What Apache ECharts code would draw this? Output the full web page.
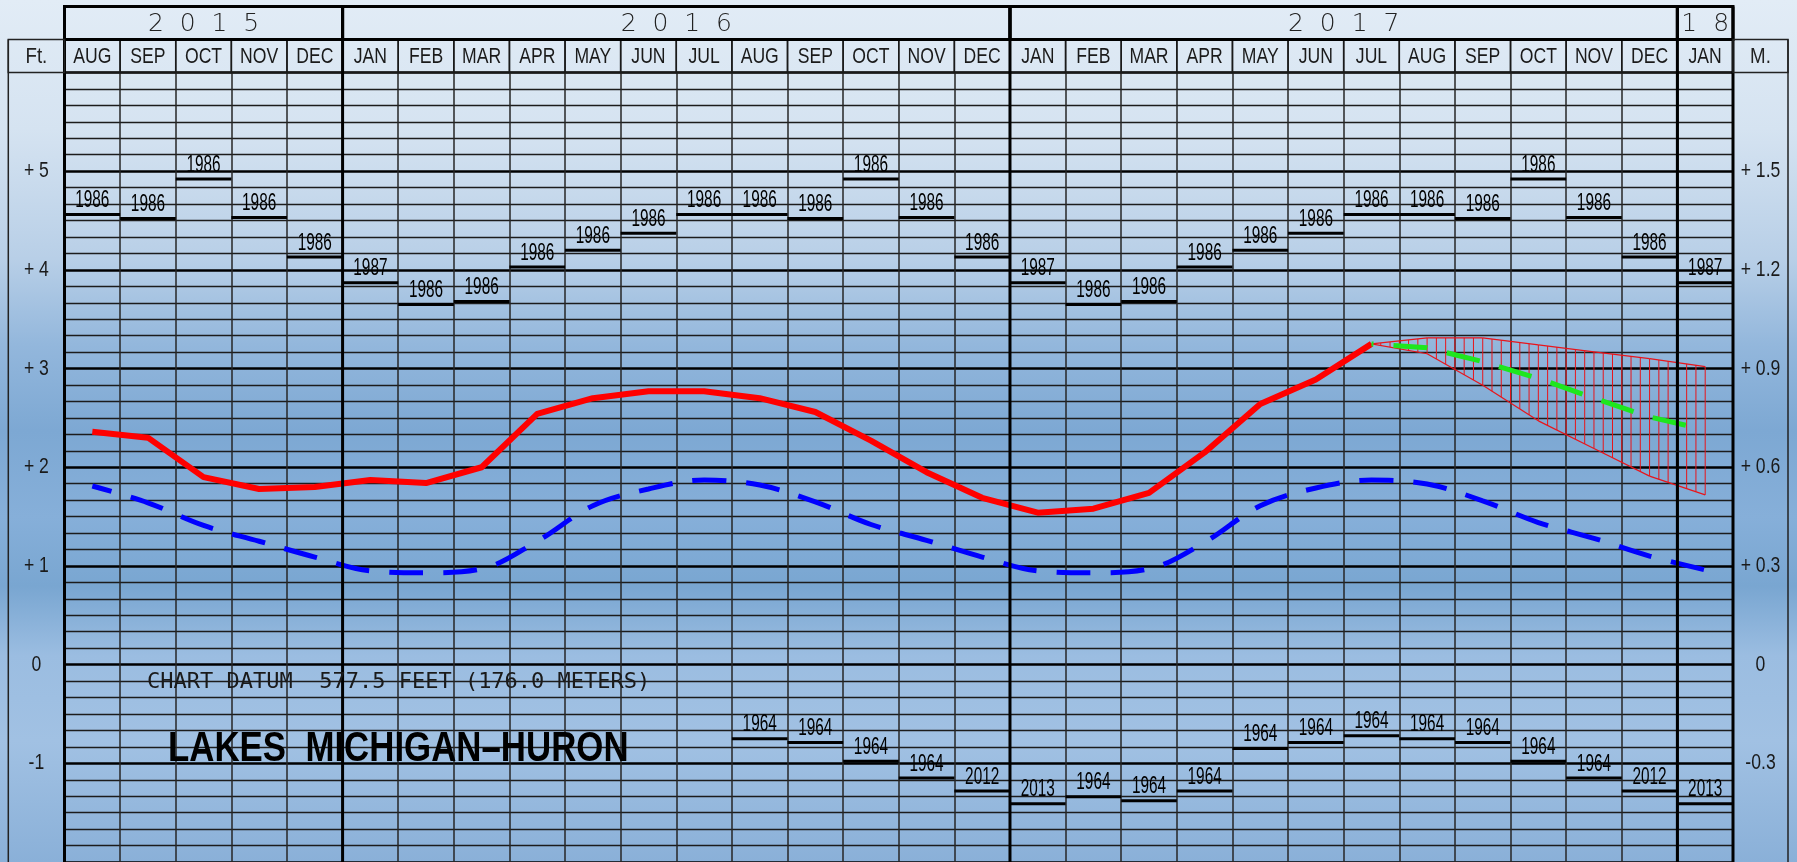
<!DOCTYPE html>
<html><head><meta charset="utf-8">
<script src="https://cdn.jsdelivr.net/npm/echarts@6/dist/echarts.min.js"></script>
<style>html,body{margin:0;padding:0;background:#dfe9f3;overflow:hidden}#c{width:1797px;height:862px}</style>
</head><body><div id="c"></div>
<script>
// ---------- data ----------
const months = ['AUG','SEP','OCT','NOV','DEC','JAN','FEB','MAR','APR','MAY','JUN','JUL','AUG','SEP','OCT','NOV','DEC','JAN','FEB','MAR','APR','MAY','JUN','JUL','AUG','SEP','OCT','NOV','DEC','JAN'];
const yearLabels = ['2  0  1  5','2  0  1  6','2  0  1  7','1  8'];
const yearSpans = [5, 12, 12, 1];
const tickValues = [-1, 0, 1, 2, 3, 4, 5];
const feetTickLabels = ['-1', '0', '+ 1', '+ 2', '+ 3', '+ 4', '+ 5'];
const meterTickLabels = ['-0.3', '0', '+ 0.3', '+ 0.6', '+ 0.9', '+ 1.2', '+ 1.5'];

// recorded monthly mean level (ft above chart datum), AUG 2015 - JUL 2017
const actualLevel = [2.36, 2.30, 1.90, 1.78, 1.80, 1.87, 1.84, 2.00, 2.54, 2.70, 2.77, 2.77, 2.70, 2.56, 2.27, 1.95, 1.69, 1.54, 1.58, 1.74, 2.15, 2.64, 2.89, 3.25];
// long-term average level
const averageLevel = [1.81, 1.64, 1.41, 1.25, 1.09, 0.95, 0.93, 0.97, 1.25, 1.61, 1.78, 1.87, 1.82, 1.65, 1.42, 1.26, 1.09, 0.95, 0.93, 0.97, 1.24, 1.61, 1.79, 1.87, 1.83, 1.66, 1.44, 1.28, 1.10, 0.96];
// forecast (starts at JUL 2017)
const forecastStart = 23;
const forecastMid  = [3.25, 3.21, 3.07, 2.90, 2.70, 2.51, 2.38];
const forecastHigh = [3.25, 3.31, 3.31, 3.24, 3.17, 3.10, 3.02];
const forecastLow  = [3.25, 3.15, 2.83, 2.47, 2.19, 1.91, 1.72];

// records by calendar month JAN..DEC
const calMonths = ['JAN','FEB','MAR','APR','MAY','JUN','JUL','AUG','SEP','OCT','NOV','DEC'];
const recordHigh     = [3.87, 3.65, 3.68, 4.03, 4.20, 4.37, 4.56, 4.56, 4.52, 4.92, 4.53, 4.13];
const recordHighYear = ['1987','1986','1986','1986','1986','1986','1986','1986','1986','1986','1986','1986'];
const recordLow      = [-1.41, -1.34, -1.38, -1.28, -0.85, -0.79, -0.72, -0.75, -0.79, -0.98, -1.15, -1.28];
const recordLowYear  = ['2013','1964','1964','1964','1964','1964','1964','1964','1964','1964','1964','2012'];
const recordLowFirst = 12;

// ---------- layout ----------
const GL = 64.5, GT = 72.5, GW = 1668.5, GH = 790.8;
const ROW = 33, FRAME_L = 8.3, FRAME_R = 1788;
const SANS = '"Liberation Sans", Arial, sans-serif';

const pad = (arr, start) => months.map((m, i) => (i >= start && i - start < arr.length) ? arr[i - start] : null);

const highData = months.map((m, i) => [i, recordHigh[calMonths.indexOf(m)]]);
const highYears = months.map(m => recordHighYear[calMonths.indexOf(m)]);
const lowData = [], lowYears = [];
months.forEach((m, i) => { if (i >= recordLowFirst) { lowData.push([i, recordLow[calMonths.indexOf(m)]]); lowYears.push(recordLowYear[calMonths.indexOf(m)]); } });

const yearData = []; let acc = 0;
yearSpans.forEach((n, k) => { yearData.push([acc, acc + n - 1, k]); acc += n; });

function txt(x, y, text, font, fill, sx, align, valign) {
  return { type: 'text', x: x, y: y, scaleX: sx || 1, style: { text: text, fill: fill, font: font,
    align: align || 'center', verticalAlign: valign || 'middle', textAlign: align || 'center', textVerticalAlign: valign || 'middle' } };
}

function recordRenderer(years) {
  return function (params, api) {
    const i = api.value(0), v = api.value(1);
    const p = api.coord([i, v]);
    const w = api.size([1, 0])[0];
    return { type: 'group', children: [
      { type: 'line', shape: { x1: p[0] - w / 2, y1: p[1], x2: p[0] + w / 2, y2: p[1] }, style: { stroke: '#000', lineWidth: 3 } },
      txt(p[0], p[1] - 2, years[params.dataIndex], '24px ' + SANS, '#000', 0.64, 'center', 'bottom')
    ] };
  };
}

function bandRenderer(params, api) {
  const k = params.dataIndex;
  const i0 = forecastStart + k;
  const children = [];
  if (k < forecastHigh.length - 1) {
    const a0 = api.coord([i0, forecastLow[k]]), b0 = api.coord([i0, forecastHigh[k]]);
    const a1 = api.coord([i0 + 1, forecastLow[k + 1]]), b1 = api.coord([i0 + 1, forecastHigh[k + 1]]);
    children.push({ type: 'line', shape: { x1: a0[0], y1: a0[1], x2: a1[0], y2: a1[1] }, style: { stroke: '#e8151b', lineWidth: 1.2 } });
    children.push({ type: 'line', shape: { x1: b0[0], y1: b0[1], x2: b1[0], y2: b1[1] }, style: { stroke: '#e8151b', lineWidth: 1.2 } });
    for (let s = 1; s <= 6; s++) {
      const t = s / 6;
      const x = a0[0] + (a1[0] - a0[0]) * t;
      const yl = a0[1] + (a1[1] - a0[1]) * t;
      const yu = b0[1] + (b1[1] - b0[1]) * t;
      children.push({ type: 'line', shape: { x1: x, y1: yl, x2: x, y2: yu }, style: { stroke: '#e8151b', lineWidth: 1 } });
    }
  }
  return { type: 'group', children };
}

function monthHeaderRenderer(params, api) {
  const i = api.value(0);
  const c = api.coord([i, 6]);
  const w = api.size([1, 0])[0];
  return { type: 'group', children: [
    { type: 'rect', shape: { x: c[0] - w / 2, y: c[1] - ROW, width: w, height: ROW }, style: { fill: 'none', stroke: '#1a1a1a', lineWidth: 1.5 } },
    txt(c[0], c[1] - ROW / 2 + 1, months[i], '22px ' + SANS, '#1a1a1a', 0.8)
  ] };
}

function yearRenderer(params, api) {
  const s = api.value(0), e = api.value(1), k = api.value(2);
  const w = api.size([1, 0])[0];
  const cs = api.coord([s, 6]), ce = api.coord([e, 6]);
  const bot = api.coord([s, -2])[1];
  const x0 = cs[0] - w / 2, x1 = ce[0] + w / 2, top = cs[1];
  const ch = [
    { type: 'rect', shape: { x: x0, y: top - 2 * ROW, width: x1 - x0, height: ROW }, style: { fill: 'none', stroke: '#000', lineWidth: 3 } },
    txt((x0 + x1) / 2, top - 1.5 * ROW + 1, yearLabels[k], '300 25px "DejaVu Sans", sans-serif', '#222', 1),
    { type: 'line', shape: { x1: x0, y1: top - 2 * ROW, x2: x0, y2: bot }, style: { stroke: '#000', lineWidth: 3 } }
  ];
  if (k === yearSpans.length - 1) ch.push({ type: 'line', shape: { x1: x1, y1: top - 2 * ROW, x2: x1, y2: bot }, style: { stroke: '#000', lineWidth: 3 } });
  return { type: 'group', children: ch };
}

function tickLabelRenderer(params, api) {
  const v = api.value(0);
  const y = api.coord([0, v])[1];
  const j = params.dataIndex;
  return { type: 'group', children: [
    txt((FRAME_L + GL) / 2, y, feetTickLabels[j], '22px ' + SANS, '#1a1a1a', 0.8),
    txt((GL + GW + FRAME_R) / 2, y, meterTickLabels[j], '22px ' + SANS, '#1a1a1a', 0.8)
  ] };
}

const chart = echarts.init(document.getElementById('c'), null, { renderer: 'canvas', width: 1797, height: 862 });

const bg = { type: 'linear', x: 0, y: 0, x2: 0, y2: 1, colorStops: [
  { offset: 0, color: '#e2ecf6' }, { offset: 0.15, color: '#d5e3f1' }, { offset: 0.3, color: '#b8cfe7' },
  { offset: 0.4, color: '#93b7dc' }, { offset: 0.5, color: '#7da8d3' }, { offset: 0.6, color: '#86afd9' },
  { offset: 0.68, color: '#79a6d1' }, { offset: 0.76, color: '#9bbde1' }, { offset: 0.86, color: '#a1c1e3' },
  { offset: 1, color: '#8ab0d8' } ] };

chart.setOption({
  animation: false,
  backgroundColor: 'transparent',
  graphic: [
    { type: 'rect', z: -100, silent: true, shape: { x: 0, y: 0, width: 1797, height: 862 }, style: { fill: bg } },
    { type: 'rect', z: 50, shape: { x: FRAME_L, y: GT - ROW, width: GL - FRAME_L, height: ROW }, style: { fill: 'none', stroke: '#222', lineWidth: 1.5 } },
    { type: 'line', z: 50, shape: { x1: FRAME_L, y1: GT - ROW, x2: FRAME_L, y2: 862 }, style: { stroke: '#222', lineWidth: 1.5 } },
    Object.assign(txt((FRAME_L + GL) / 2, GT - ROW / 2 + 1, 'Ft.', '22px ' + SANS, '#222', 0.85), { z: 50 }),
    { type: 'rect', z: 50, shape: { x: GL + GW, y: GT - ROW, width: FRAME_R - GL - GW, height: ROW }, style: { fill: 'none', stroke: '#222', lineWidth: 1.5 } },
    { type: 'line', z: 50, shape: { x1: FRAME_R, y1: GT - ROW, x2: FRAME_R, y2: 862 }, style: { stroke: '#222', lineWidth: 1.5 } },
    Object.assign(txt((GL + GW + FRAME_R) / 2, GT - ROW / 2 + 1, 'M.', '22px ' + SANS, '#222', 0.85), { z: 50 }),
    Object.assign(txt(147, 682.5, 'CHART DATUM  577.5 FEET (176.0 METERS)', '22px "DejaVu Sans Mono", monospace', '#1a1a1a', 1, 'left'), { z: 50 }),
    Object.assign(txt(168, 749, 'LAKES  MICHIGAN–HURON', 'bold 43px ' + SANS, '#000', 0.81, 'left'), { z: 50 })
  ],
  grid: { left: GL, top: GT, width: GW, height: GH, show: false },
  xAxis: {
    type: 'category', data: months, boundaryGap: true,
    axisLine: { show: false }, axisTick: { show: false }, axisLabel: { show: false },
    splitLine: { show: true, interval: 0, lineStyle: { color: '#262626', width: 1.5 } }
  },
  yAxis: {
    type: 'value', min: -2, max: 6, interval: 1, position: 'left',
    axisLine: { show: false }, axisTick: { show: false }, axisLabel: { show: false },
    splitLine: { show: true, lineStyle: { color: '#000', width: 2.5 } },
    minorTick: { show: false, splitNumber: 6 },
    minorSplitLine: { show: true, lineStyle: { color: '#1c1c1c', width: 1.3 } }
  },
  series: [
    { type: 'custom', name: 'tickLabels', z: 20, renderItem: tickLabelRenderer, data: tickValues.map(v => [v]), clip: false },
    { type: 'custom', name: 'monthHeader', z: 20, renderItem: monthHeaderRenderer, data: months.map((m, i) => [i]), clip: false },
    { type: 'custom', name: 'years', z: 21, renderItem: yearRenderer, data: yearData, clip: false },
    { type: 'custom', name: 'recordHigh', z: 15, renderItem: recordRenderer(highYears), data: highData, clip: false },
    { type: 'custom', name: 'recordLow', z: 15, renderItem: recordRenderer(lowYears), data: lowData, clip: false },
    { type: 'custom', name: 'forecastRange', z: 16, renderItem: bandRenderer, data: forecastLow.map((v, k) => [forecastStart + k, v, forecastHigh[k]]), clip: false },
    { type: 'line', name: 'average', z: 17, data: averageLevel, symbol: 'none', smooth: 0.35,
      lineStyle: { color: '#0000ff', width: 5, type: [34, 20], dashOffset: 14, cap: 'butt' } },
    { type: 'line', name: 'actual', z: 18, data: pad(actualLevel, 0), symbol: 'none',
      lineStyle: { color: '#ff0000', width: 6, join: 'round' } },
    { type: 'line', name: 'forecast', z: 18, data: pad(forecastMid, forecastStart), symbol: 'none',
      lineStyle: { color: '#1ee61e', width: 5, type: [34, 20], dashOffset: 32, cap: 'butt' } }
  ]
});
</script>
</body></html>
